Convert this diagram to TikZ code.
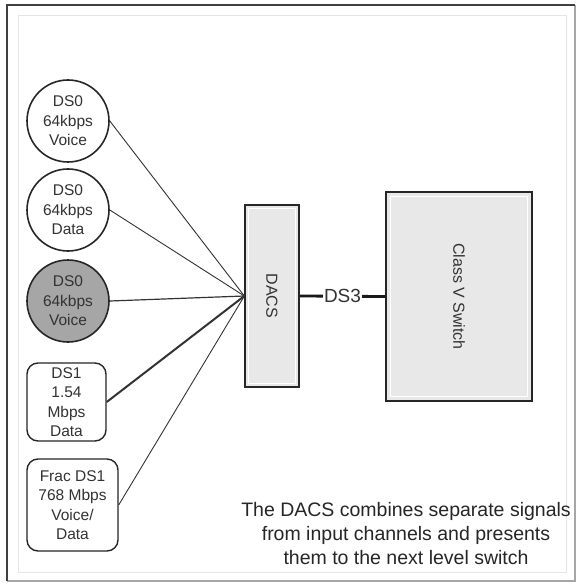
\documentclass[tikz,border=0pt]{standalone}
\usepackage{fontspec}
\setmainfont{Liberation Sans}
\begin{document}
\begin{tikzpicture}[x=1pt,y=-1pt,
  lbl/.style={text=black!80, align=center, font=\fontsize{15.5}{19.5}\selectfont, inner sep=0pt},
  ds0/.style={lbl, circle, draw=black!85, line width=1.6pt, minimum size=82pt, fill=white},
  ratebox/.style={lbl, rectangle, rounded corners=11pt, draw=black!85, line width=1.4pt, fill=white},
  unit/.style={rectangle, draw=black!85, line width=1.3pt, fill=black!9, inner sep=0pt},
  feed/.style={draw=black!80, line width=0.9pt},
  rim/.style={draw=white, line width=1.2pt},
]
\fill[white] (0,0) rectangle (578,585);
\useasboundingbox (0,0) rectangle (578,585);
% frame
\draw[black!10, line width=1pt] (18,16) rectangle (566,572);
\draw[black!35, line width=1.2pt] (575,5) -- (575,581) -- (7,581);
\draw[black!75, line width=1.5pt] (7,581) -- (7,5) -- (575,5);

% input channels
\node[ds0] (v1) at (68,121) {DS0\\64kbps\\Voice};
\node[ds0] (d1) at (68,210) {DS0\\64kbps\\Data};
\node[ds0, fill=black!35] (v2) at (68,301) {DS0\\64kbps\\Voice};
\node[ratebox, minimum width=79pt, minimum height=78pt] (t1) at (66.5,402) {DS1\\1.54\\Mbps\\Data};
\node[ratebox, minimum width=91pt, minimum height=92pt] (fr) at (72.5,505) {Frac DS1\\768 Mbps\\Voice/\\Data};

% DACS and switch
\node[unit, minimum width=54pt, minimum height=182pt] (dacs) at (272,296) {};
\draw[rim] ([shift={(4,4)}]dacs.north west) rectangle ([shift={(-4,-4)}]dacs.south east);
\node[lbl, rotate=-90, font=\fontsize{16}{19}\selectfont] (dacslbl) at (dacs.center) {DACS};

\node[unit, minimum width=146pt, minimum height=209pt] (sw) at (459,296.5) {};
\draw[rim] ([shift={(5,5)}]sw.north west) rectangle ([shift={(-5,-5)}]sw.south east);
\node[lbl, rotate=-90, font=\fontsize{16}{19}\selectfont] (swlbl) at (sw.center) {Class V Switch};

% feeds
\draw[feed] (v1.east) -- (dacs.west);
\draw[feed] (d1.east) -- (dacs.west);
\draw[feed, line width=1.2pt] (v2.east) -- (dacs.west);
\draw[feed, line width=2pt] (t1.east) -- (dacs.west);
\draw[feed] (fr.east) -- (dacs.west);

% DS3 trunk
\draw[line width=2.8pt, black!90] (dacs.east) -- node[fill=white, inner sep=1.5pt, font=\fontsize{19}{22}\selectfont, text=black!80] (ds3) {DS3} (sw.west);

% caption
\node[text=black!85, align=center, font=\fontsize{19.5}{24}\selectfont] (cap) at (406,534) {The DACS combines separate signals\\from input channels and presents\\them to the next level switch};
\end{tikzpicture}
\end{document}
